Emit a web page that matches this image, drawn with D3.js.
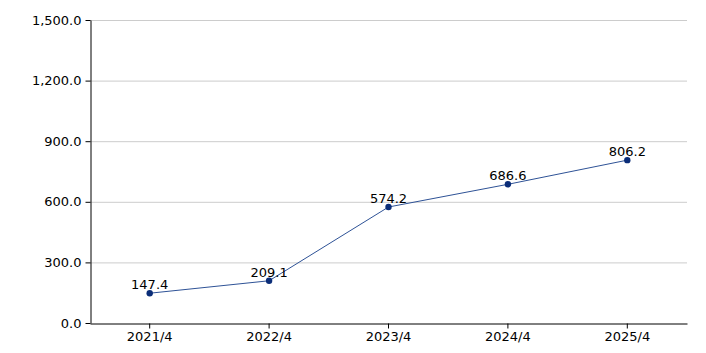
<!DOCTYPE html>
<html><head><meta charset="utf-8">
<script src="https://cdn.jsdelivr.net/npm/d3@7"></script>
<style>body{margin:0;background:#fff}svg{display:block;font-family:"DejaVu Sans",Verdana,sans-serif}</style>
</head><body><svg id="c" width="706" height="353"></svg>
<script>
const categories = ["2021/4","2022/4","2023/4","2024/4","2025/4"];
const values = [147.4, 209.1, 574.2, 686.6, 806.2];
const yTicks = [0, 300, 600, 900, 1200, 1500];

const svg = d3.select("#c");
const m = {l:90, r:19, t:20, b:30};
const W = 706, H = 353;
const x = d3.scaleBand().domain(categories).range([m.l, W - m.r]);
const y = d3.scaleLinear().domain([0, 1500]).range([H - m.b, m.t]);
const fmt = d3.format(",.1f");

svg.append("g").selectAll("line").data(yTicks.filter(d=>d>0)).join("line")
  .attr("x1", m.l).attr("x2", W - m.r)
  .attr("y1", d=>y(d)+0.5).attr("y2", d=>y(d)+0.5)
  .attr("stroke", "#cccccc");

const ya = svg.append("g").attr("transform", `translate(${m.l+0.5},0)`)
  .call(d3.axisLeft(y).tickValues(yTicks).tickFormat(fmt).tickSize(5).tickSizeOuter(0));
ya.select(".domain").attr("stroke","#000");
ya.selectAll(".tick line").attr("stroke","#000");
ya.selectAll("text").attr("font-size",13).attr("fill","#000").attr("font-family","DejaVu Sans, Verdana, sans-serif").attr("x",-9);

const xa = svg.append("g").attr("transform", `translate(0,${H - m.b + 0.5})`)
  .call(d3.axisBottom(x).tickSize(5).tickSizeOuter(0));
xa.select(".domain").attr("stroke","#000");
xa.selectAll(".tick line").attr("stroke","#000");
xa.selectAll("text").attr("font-size",13).attr("fill","#000").attr("font-family","DejaVu Sans, Verdana, sans-serif").attr("y",8);

const cx = d => x(d) + x.bandwidth()/2;
const line = d3.line().x((d,i)=>cx(categories[i])).y(d=>y(d));
svg.append("path").datum(values).attr("d", line)
  .attr("fill","none").attr("stroke","#2e5296").attr("stroke-width",1);

svg.append("g").selectAll("circle").data(values).join("circle")
  .attr("cx",(d,i)=>cx(categories[i])).attr("cy",d=>y(d)).attr("r",3.2)
  .attr("fill","#0b2d78");

svg.append("g").selectAll("text").data(values).join("text")
  .attr("x",(d,i)=>cx(categories[i])).attr("y",d=>y(d)-4)
  .attr("text-anchor","middle").attr("font-size",13).attr("fill","#000")
  .text(d=>fmt(d));
</script></body></html>
